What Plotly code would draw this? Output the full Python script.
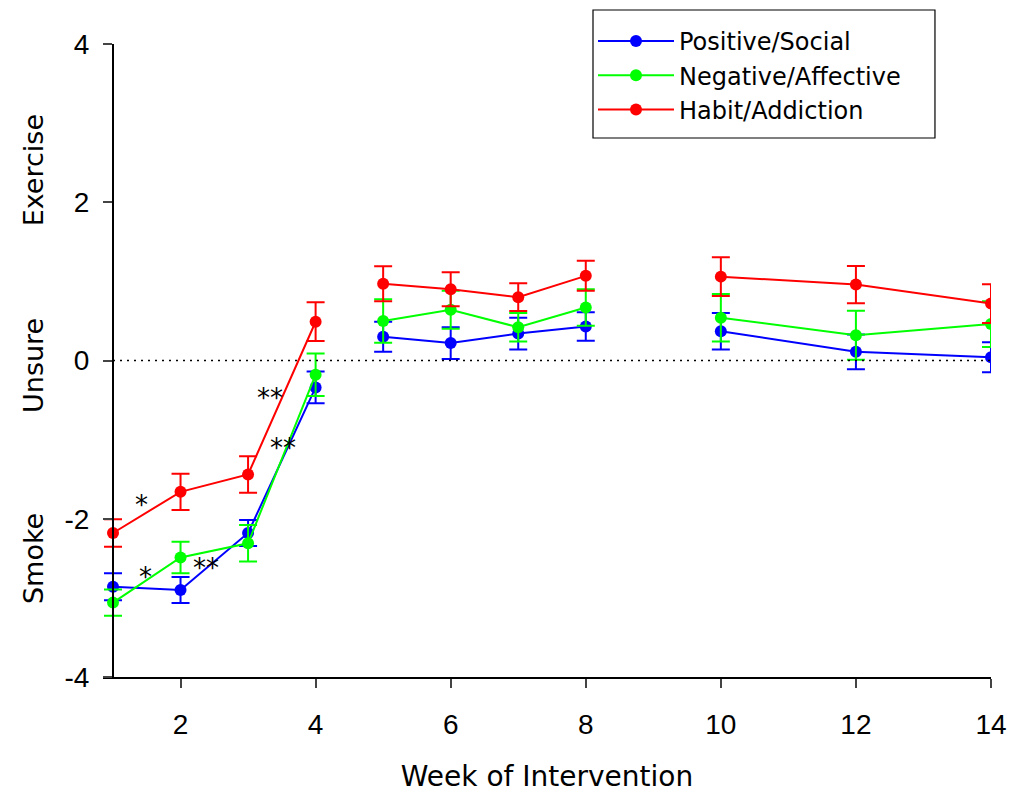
import plotly.graph_objects as go

# Weeks of the intervention at which ratings were collected
weeks = [1, 2, 3, 4, 5, 6, 7, 8, 10, 12, 14]
# Lines are broken between these phases
phase_breaks_after = [4, 8]

pos_social = [-2.86, -2.90, -2.18, -0.34, 0.30, 0.22, 0.34, 0.43, 0.37, 0.11, 0.04]
pos_social_se = [0.17, 0.165, 0.165, 0.20, 0.19, 0.20, 0.20, 0.18, 0.23, 0.22, 0.19]

neg_affective = [-3.06, -2.49, -2.31, -0.18, 0.50, 0.64, 0.42, 0.67, 0.54, 0.32, 0.46]
neg_affective_se = [0.165, 0.20, 0.23, 0.27, 0.275, 0.24, 0.18, 0.23, 0.30, 0.31, 0.29]

habit_addiction = [-2.18, -1.66, -1.44, 0.49, 0.97, 0.90, 0.80, 1.07, 1.06, 0.96, 0.72]
habit_addiction_se = [0.175, 0.23, 0.23, 0.245, 0.22, 0.215, 0.175, 0.19, 0.245, 0.235, 0.245]

series_names = ["Positive/Social", "Negative/Affective", "Habit/Addiction"]
series_colors = ["#0000ff", "#00ff00", "#ff0000"]

# Significance markers: (week, rating, label)
sig_x = [1.42, 1.48, 2.38, 3.33, 3.52]
sig_y = [-1.77, -2.69, -2.57, -0.42, -1.05]
sig_text = ["*", "*", "**", "**", "**"]

y_ticks = [-4, -2, 0, 2, 4]
y_tick_text = ["-4", "-2", "0", "2", "4"]
x_ticks = [2, 4, 6, 8, 10, 12, 14]
y_categories = ["Exercise", "Unsure", "Smoke"]
y_category_pos = [2.4, -0.06, -2.5]

FONT = "DejaVu Sans"
NUM_FONT = "Liberation Sans"


def with_breaks(values):
    out = []
    for w, v in zip(weeks, values):
        out.append(v)
        if w in phase_breaks_after:
            out.append(None)
    return out


x_plot = with_breaks(weeks)

fig = go.Figure()
for name, color, vals, se in zip(
    series_names,
    series_colors,
    [pos_social, neg_affective, habit_addiction],
    [pos_social_se, neg_affective_se, habit_addiction_se],
):
    fig.add_trace(
        go.Scatter(
            x=x_plot,
            y=with_breaks(vals),
            name=name,
            mode="lines+markers",
            connectgaps=False,
            line=dict(color=color, width=2),
            marker=dict(color=color, size=12),
            error_y=dict(
                type="data",
                array=with_breaks(se),
                visible=True,
                color=color,
                thickness=2,
                width=9,
            ),
        )
    )

# Dotted reference line at "Unsure"
fig.add_shape(
    type="line", xref="x", yref="y", x0=1, x1=14, y0=0, y1=0,
    line=dict(color="black", width=1.5, dash="2px,5px"),
)

# Frame around the legend
fig.add_shape(
    type="rect", xref="paper", yref="paper",
    x0=0.5518, x1=0.9369, y0=0.8515, y1=1.0537,
    line=dict(color="black", width=1.2), fillcolor="rgba(0,0,0,0)",
)

for sx, sy, st in zip(sig_x, sig_y, sig_text):
    fig.add_annotation(
        x=sx, y=sy, text=st, showarrow=False, xref="x", yref="y", yshift=-4,
        font=dict(family=FONT, size=26, color="black"),
    )

for lab, yp in zip(y_categories, y_category_pos):
    fig.add_annotation(
        x=-0.078, y=yp, xref="paper", yref="y", text=lab, showarrow=False,
        xanchor="center", yanchor="middle",
        textangle=-90, font=dict(family=FONT, size=27, color="black"),
    )

x0 = 0.852
fig.update_layout(
    width=1013,
    height=793,
    margin=dict(l=103, r=22, t=44, b=116),
    paper_bgcolor="white",
    plot_bgcolor="white",
    font=dict(family=FONT, color="black"),
    xaxis=dict(
        range=[x0, 14.0],
        tickvals=x_ticks,
        ticks="outside",
        ticklen=9,
        tickwidth=1.5,
        showline=True,
        linecolor="black",
        linewidth=2,
        showgrid=False,
        zeroline=False,
        automargin=False,
        ticklabelstandoff=12,
        tickfont=dict(family=NUM_FONT, size=28),
        title=dict(text="Week of Intervention", font=dict(family=FONT, size=28), standoff=36),
    ),
    yaxis=dict(
        range=[-4, 4],
        tickvals=y_ticks,
        ticktext=y_tick_text,
        ticks="outside",
        ticklen=9,
        tickwidth=1.5,
        showline=True,
        linecolor="black",
        linewidth=2,
        showgrid=False,
        zeroline=False,
        automargin=False,
        anchor="free",
        position=(1 - x0) / (14.0 - x0),
        ticklabelstandoff=8,
        tickfont=dict(family=NUM_FONT, size=28),
    ),
    legend=dict(
        x=0.5518,
        y=1.0395,
        xanchor="left",
        yanchor="top",
        borderwidth=0,
        bgcolor="rgba(0,0,0,0)",
        font=dict(family=FONT, size=24),
        itemwidth=76,
        tracegroupgap=0,
    ),
    showlegend=True,
)

fig.write_html("out.html")
